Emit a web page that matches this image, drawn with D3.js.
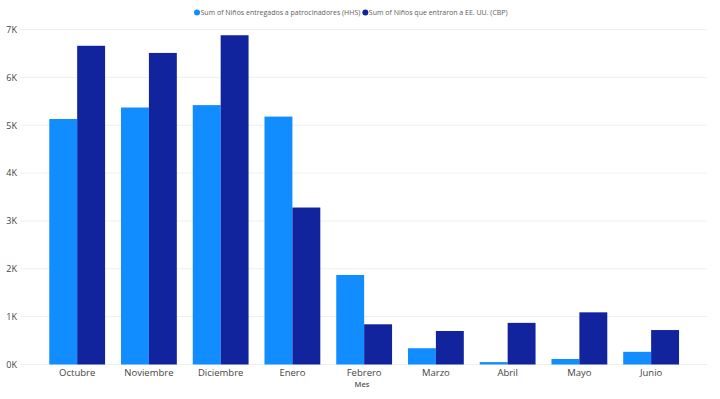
<!DOCTYPE html>
<html>
<head>
<meta charset="utf-8">
<script src="https://cdn.jsdelivr.net/npm/d3@7"></script>
<style>
  body { margin: 0; background: #fff; }
  svg { display: block; font-family: 'Open Sans', sans-serif; }
  .tick text { fill: #444444; }
</style>
</head>
<body>
<div id="chart"></div>
<script>
const categories = ['Octubre', 'Noviembre', 'Diciembre', 'Enero', 'Febrero', 'Marzo', 'Abril', 'Mayo', 'Junio'];
const hhs = [5130, 5370, 5420, 5180, 1870, 340, 50, 115, 265];
const cbp = [6660, 6510, 6880, 3280, 840, 700, 870, 1090, 720];
const yTicks = [0, 1000, 2000, 3000, 4000, 5000, 6000, 7000];
const seriesNames = ['Sum of Niños entregados a patrocinadores (HHS)', 'Sum of Niños que entraron a EE. UU. (CBP)'];
const colors = ['#118dff', '#12239e'];

const W = 720, H = 399;
const margin = { top: 29.5, right: 13, bottom: 34.5, left: 20 };
const height = H - margin.top - margin.bottom;

const svg = d3.select('#chart')
  .append('svg')
  .attr('width', W)
  .attr('height', H);

const x = d3.scaleBand()
  .domain(categories)
  .range([41.3, 687])
  .paddingInner(0.222)
  .paddingOuter(0.111);

const xs = d3.scaleBand()
  .domain([0, 1])
  .range([0, x.bandwidth()]);

const y = d3.scaleLinear()
  .domain([0, 7000])
  .range([margin.top + height, margin.top]);

// gridlines
svg.append('g')
  .selectAll('line')
  .data(yTicks)
  .enter()
  .append('line')
  .attr('x1', margin.left)
  .attr('x2', W - margin.right)
  .attr('y1', d => y(d))
  .attr('y2', d => y(d))
  .attr('stroke', '#efefef')
  .attr('stroke-width', 1);

// y axis labels
const yAxis = svg.append('g')
  .attr('transform', 'translate(17,0)')
  .call(d3.axisLeft(y).tickValues(yTicks).tickSize(0).tickPadding(0).tickFormat(d => (d / 1000) + 'K'));
yAxis.select('.domain').remove();
yAxis.selectAll('text').attr('font-size', 9).attr('font-family', 'Open Sans').attr('fill', '#555');

// bars
const groups = svg.append('g')
  .selectAll('g')
  .data(categories)
  .enter()
  .append('g')
  .attr('transform', d => `translate(${x(d)},0)`);

[hhs, cbp].forEach((vals, s) => {
  groups.append('rect')
    .attr('x', xs(s))
    .attr('y', (d, i) => y(vals[i]))
    .attr('width', xs.bandwidth())
    .attr('height', (d, i) => y(0) - y(vals[i]))
    .attr('fill', colors[s]);
});

// x axis labels
const xAxis = svg.append('g')
  .attr('transform', `translate(0,${y(0)})`)
  .call(d3.axisBottom(x).tickSize(0).tickPadding(5));
xAxis.select('.domain').remove();
xAxis.selectAll('text').attr('font-size', 9.5).attr('font-family', 'Open Sans');

svg.append('text')
  .attr('x', 362)
  .attr('y', 387)
  .attr('text-anchor', 'middle')
  .attr('font-size', 7.5)
  .attr('font-weight', 600)
  .attr('fill', '#555')
  .text('Mes');

// legend
const legend = svg.append('g');
let lx = 197;
seriesNames.forEach((name, s) => {
  legend.append('circle')
    .attr('cx', lx)
    .attr('cy', 12.5)
    .attr('r', 3)
    .attr('fill', colors[s]);
  const t = legend.append('text')
    .attr('x', lx + 3.5)
    .attr('y', 15)
    .attr('font-size', 7)
    .attr('fill', '#605e5c')
    .text(name);
  lx += 3.5 + t.node().getComputedTextLength() + 5;
});
</script>
</body>
</html>
